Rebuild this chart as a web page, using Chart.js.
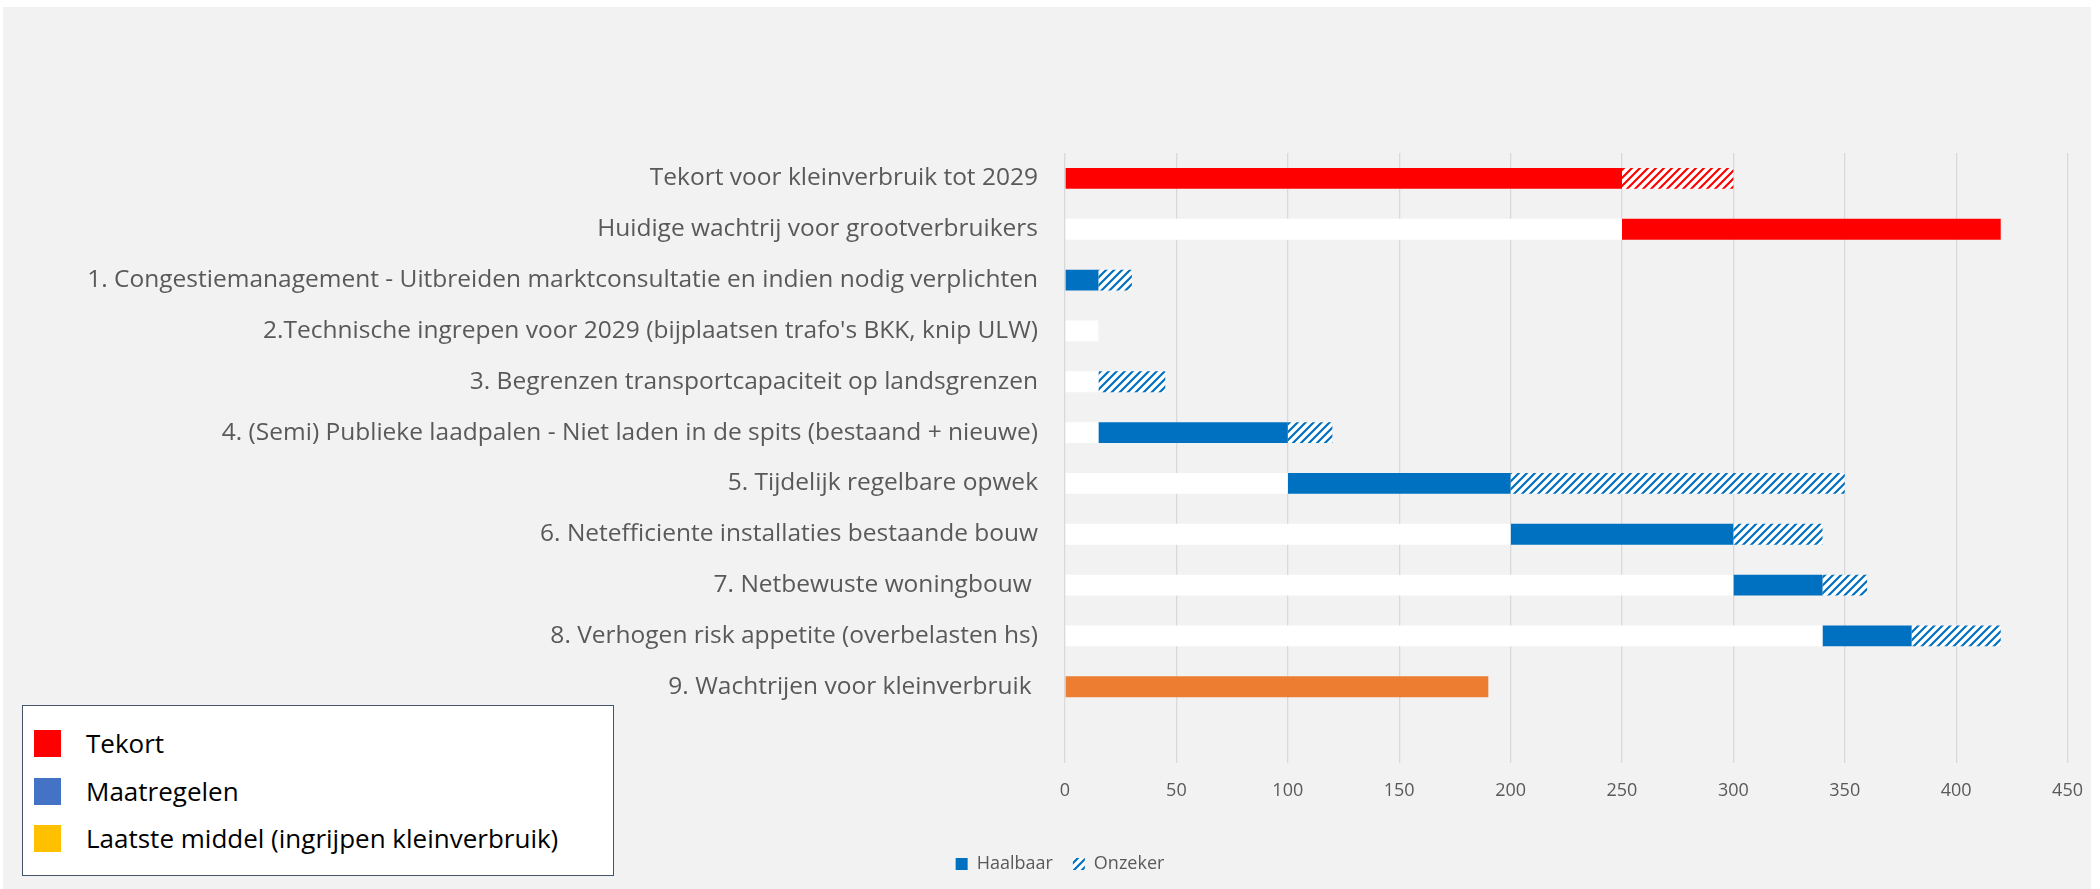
<!DOCTYPE html>
<html lang="nl">
<head>
<meta charset="utf-8">
<title>Tekort en maatregelen kleinverbruik</title>
<script src="https://cdn.jsdelivr.net/npm/chart.js@4.4.1/dist/chart.umd.min.js"></script>
<style>
  html, body { margin: 0; padding: 0; background: #fff; }
  #wrap { position: relative; width: 2100px; height: 889px; }
  #grafiek { display: block; }
  .kader {
    position: absolute; left: 22px; top: 705px; width: 590px; height: 169px;
    background: #fff; border: 1.5px solid #44546A;
    font-family: 'Open Sans', sans-serif; font-size: 26px; color: #000;
  }
  .kader .item { position: absolute; left: 11px; height: 27px; line-height: 27px; white-space: nowrap; }
  .kader .vak { display: inline-block; width: 27px; height: 27px; vertical-align: top; margin-right: 25px; }
</style>
</head>
<body>
<div id="wrap">
  <canvas id="grafiek" width="2100" height="889"></canvas>
  <div class="kader">
    <div class="item" style="top:24px"><span class="vak" style="background:#FF0000"></span>Tekort</div>
    <div class="item" style="top:72px"><span class="vak" style="background:#4472C4"></span>Maatregelen</div>
    <div class="item" style="top:119px"><span class="vak" style="background:#FFC000"></span>Laatste middel (ingrijpen kleinverbruik)</div>
  </div>
</div>
<script>
// categorieen (laatste rij is leeg, zoals in het origineel)
const categories = [
  'Tekort voor kleinverbruik tot 2029',
  'Huidige wachtrij voor grootverbruikers',
  '1. Congestiemanagement - Uitbreiden marktconsultatie en indien nodig verplichten',
  "2.Technische ingrepen voor 2029 (bijplaatsen trafo's BKK, knip ULW)",
  '3. Begrenzen transportcapaciteit op landsgrenzen',
  '4. (Semi) Publieke laadpalen - Niet laden in de spits (bestaand + nieuwe)',
  '5. Tijdelijk regelbare opwek',
  '6. Netefficiente installaties bestaande bouw',
  '7. Netbewuste woningbouw ',
  '8. Verhogen risk appetite (overbelasten hs)',
  '9. Wachtrijen voor kleinverbruik ',
  ''
];

// gestapelde segmenten (MW)
const basis         = [0, 250, 0, 15, 15, 15, 100, 200, 300, 340, 0, null];
const tekort        = [250, 170, 0, 0, 0, 0, 0, 0, 0, 0, 0, null];
const haalbaar      = [0, 0, 15, 0, 0, 85, 100, 100, 40, 40, 0, null];
const onzeker       = [0, 0, 15, 0, 30, 20, 150, 40, 20, 40, 0, null];
const onzekerTekort = [50, 0, 0, 0, 0, 0, 0, 0, 0, 0, 0, null];
const wachtrij      = [0, 0, 0, 0, 0, 0, 0, 0, 0, 0, 190, null];

const xTicks = { min: 0, max: 450, step: 50 };

const font = "'Open Sans', sans-serif";
const ctx = document.getElementById('grafiek').getContext('2d');

// arcering: witte ondergrond met schuine strepen
function arcering(kleur) {
    const tegel = document.createElement('canvas');
    tegel.width = 8;
    tegel.height = 8;
    const t = tegel.getContext('2d');
    t.fillStyle = '#ffffff';
    t.fillRect(0, 0, 8, 8);
    t.strokeStyle = kleur;
    t.lineWidth = 2.2;
    t.beginPath();
    t.moveTo(-1, 9); t.lineTo(9, -1);
    t.moveTo(-3, 3); t.lineTo(3, -3);
    t.moveTo(5, 11); t.lineTo(11, 5);
    t.stroke();
    return ctx.createPattern(tegel, 'repeat');
}

// achtergrond van de grafiek
const achtergrond = {
    id: 'achtergrond',
    beforeDraw: function(chart) {
        const c = chart.ctx;
        c.save();
        c.fillStyle = '#ffffff';
        c.fillRect(0, 0, chart.width, chart.height);
        c.fillStyle = '#F2F2F2';
        c.fillRect(3, 7, 2088, 882);
        c.restore();
    }
};

function reeks(label, data, kleur) {
    return {
        label: label,
        data: data,
        backgroundColor: kleur,
        borderWidth: 0,
        categoryPercentage: 0.82,
        barPercentage: 0.5
    };
}

new Chart(ctx, {
    type: 'bar',
    data: {
        labels: categories,
        datasets: [
            reeks('Basis', basis, '#FFFFFF'),
            reeks('Tekort', tekort, '#FF0000'),
            reeks('Haalbaar', haalbaar, '#0070C0'),
            reeks('Onzeker', onzeker, arcering('#0070C0')),
            reeks('Onzeker tekort', onzekerTekort, arcering('#FF0000')),
            reeks('Wachtrij', wachtrij, '#ED7D31')
        ]
    },
    options: {
        indexAxis: 'y',
        responsive: false,
        animation: false,
        layout: {
            padding: { top: 153, left: 49, right: 29, bottom: 6 }
        },
        scales: {
            x: {
                stacked: true,
                min: xTicks.min,
                max: xTicks.max,
                ticks: {
                    stepSize: xTicks.step,
                    padding: 17,
                    color: '#595959',
                    font: { family: font, size: 18 }
                },
                grid: { color: '#D9D9D9', lineWidth: 1.3, drawTicks: false },
                border: { display: false },
                afterFit: function(scale) { scale.height = 72; }
            },
            y: {
                stacked: true,
                grid: { display: false },
                border: { display: false },
                ticks: {
                    autoSkip: false,
                    padding: 19,
                    color: '#595959',
                    font: { family: font, size: 24.5 }
                },
                afterFit: function(scale) { scale.width = 1016; }
            }
        },
        plugins: {
            legend: {
                display: true,
                position: 'bottom',
                labels: {
                    boxWidth: 12,
                    boxHeight: 12,
                    padding: 20,
                    color: '#595959',
                    font: { family: font, size: 18 },
                    filter: function(item) {
                        return item.text === 'Haalbaar' || item.text === 'Onzeker';
                    }
                }
            },
            tooltip: { enabled: false }
        }
    },
    plugins: [achtergrond]
});
</script>
</body>
</html>
